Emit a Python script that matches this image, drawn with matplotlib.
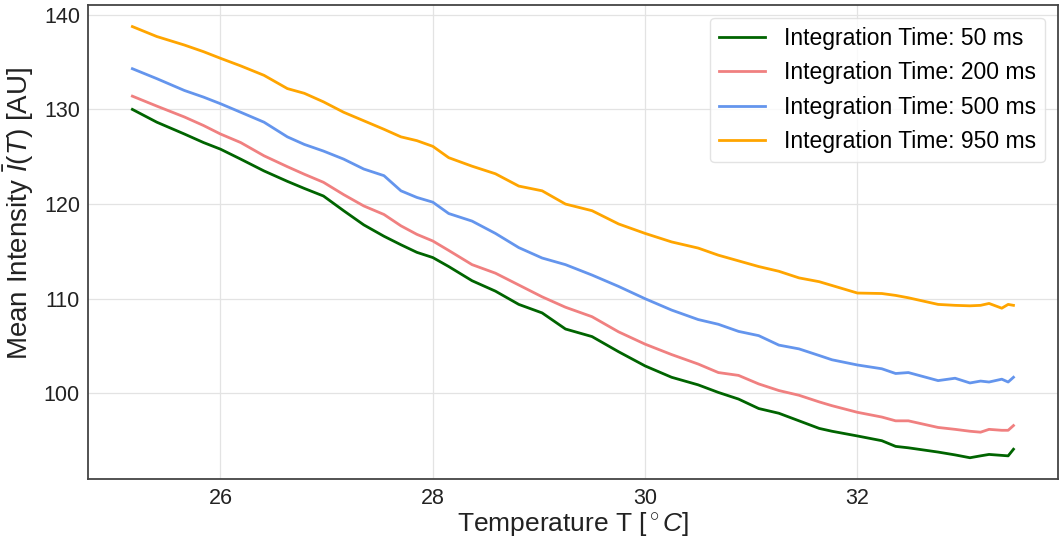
import matplotlib
matplotlib.use('Agg')
from matplotlib import pyplot as plt
import numpy as np

plt.rcParams['font.family'] = ['Liberation Sans', 'DejaVu Sans']
plt.rcParams['mathtext.fontset'] = 'custom'
plt.rcParams['mathtext.rm'] = 'Liberation Sans'
plt.rcParams['mathtext.it'] = 'Liberation Sans:italic'

# temperature readings [deg C]
temp = [25.17, 25.40, 25.66, 25.84, 26.00, 26.19, 26.41, 26.63, 26.79, 26.97,
        27.16, 27.35, 27.54, 27.70, 27.85, 28.00, 28.15, 28.37, 28.59, 28.81,
        29.03, 29.25, 29.50, 29.75, 30.00, 30.25, 30.50, 30.69, 30.88, 31.07,
        31.26, 31.45, 31.64, 31.76, 32.00, 32.23, 32.36, 32.48, 32.76, 32.92,
        33.06, 33.16, 33.24, 33.36, 33.42, 33.47]

# mean intensity per integration time [AU]
int_50 = [130.0, 128.65, 127.4, 126.5, 125.8, 124.75, 123.5, 122.4, 121.65, 120.85,
          119.3, 117.8, 116.6, 115.7, 114.9, 114.35, 113.4, 111.9, 110.8, 109.4,
          108.5, 106.8, 106.0, 104.4, 102.9, 101.7, 100.9, 100.1, 99.4, 98.4,
          97.9, 97.1, 96.3, 96.0, 95.5, 95.0, 94.4, 94.25, 93.8, 93.5,
          93.2, 93.4, 93.55, 93.45, 93.4, 94.1]
int_200 = [131.4, 130.35, 129.2, 128.3, 127.4, 126.5, 125.1, 123.95, 123.15, 122.3,
           121.0, 119.8, 118.9, 117.7, 116.8, 116.1, 115.1, 113.6, 112.7, 111.45,
           110.2, 109.1, 108.1, 106.5, 105.2, 104.1, 103.1, 102.2, 101.9, 101.0,
           100.3, 99.8, 99.1, 98.7, 98.0, 97.5, 97.1, 97.1, 96.4, 96.2,
           96.0, 95.9, 96.2, 96.1, 96.1, 96.6]
int_500 = [134.3, 133.25, 132.0, 131.3, 130.6, 129.7, 128.65, 127.1, 126.3, 125.6,
           124.75, 123.7, 123.0, 121.4, 120.7, 120.2, 119.0, 118.2, 116.9, 115.4,
           114.3, 113.6, 112.5, 111.3, 110.0, 108.8, 107.8, 107.3, 106.55, 106.1,
           105.1, 104.7, 104.0, 103.55, 103.0, 102.6, 102.1, 102.2, 101.35, 101.6,
           101.1, 101.3, 101.2, 101.5, 101.2, 101.7]
int_950 = [138.75, 137.7, 136.8, 136.1, 135.4, 134.6, 133.6, 132.2, 131.7, 130.8,
           129.7, 128.8, 127.9, 127.1, 126.7, 126.1, 124.9, 124.0, 123.2, 121.9,
           121.4, 120.0, 119.3, 117.9, 116.9, 116.0, 115.35, 114.6, 114.0, 113.4,
           112.9, 112.2, 111.8, 111.4, 110.6, 110.55, 110.35, 110.1, 109.4, 109.3,
           109.25, 109.3, 109.5, 109.0, 109.4, 109.3]

series = [(int_50, 'darkgreen', 'Integration Time: 50 ms'),
          (int_200, 'lightcoral', 'Integration Time: 200 ms'),
          (int_500, 'cornflowerblue', 'Integration Time: 500 ms'),
          (int_950, 'orange', 'Integration Time: 950 ms')]

fig = plt.figure(figsize=(10.59, 5.40), dpi=100)
ax = fig.add_axes([0.0834, 0.1124, 0.9152, 0.8783])

for vals, col, lab in series:
    ax.plot(temp, vals, color=col, lw=2.0, label=lab)

ax.set_xticks([26, 28, 30, 32])
ax.set_yticks([100, 110, 120, 130, 140])
ax.grid(True, color='#e3e3e3', lw=0.9)
ax.set_axisbelow(True)
ax.tick_params(length=0, labelsize=15.5, pad=6, colors='#222222')
for s in ax.spines.values():
    s.set_color('#444444')
    s.set_linewidth(1.3)

ax.set_xlabel(r'Temperature T [$^\circ C$]', fontsize=19, labelpad=1, color='#222222')
ax.set_ylabel(r'Mean Intensity $\bar{I}(T)$ [AU]', fontsize=20, color='#222222')
ax.yaxis.set_label_coords(-0.054, 0.56)

leg = ax.legend(loc='upper right', fontsize=16.5, frameon=True, fancybox=True,
                borderaxespad=0.55)
leg.get_frame().set_edgecolor('#dddddd')

fig.savefig('out.png', dpi=100)
